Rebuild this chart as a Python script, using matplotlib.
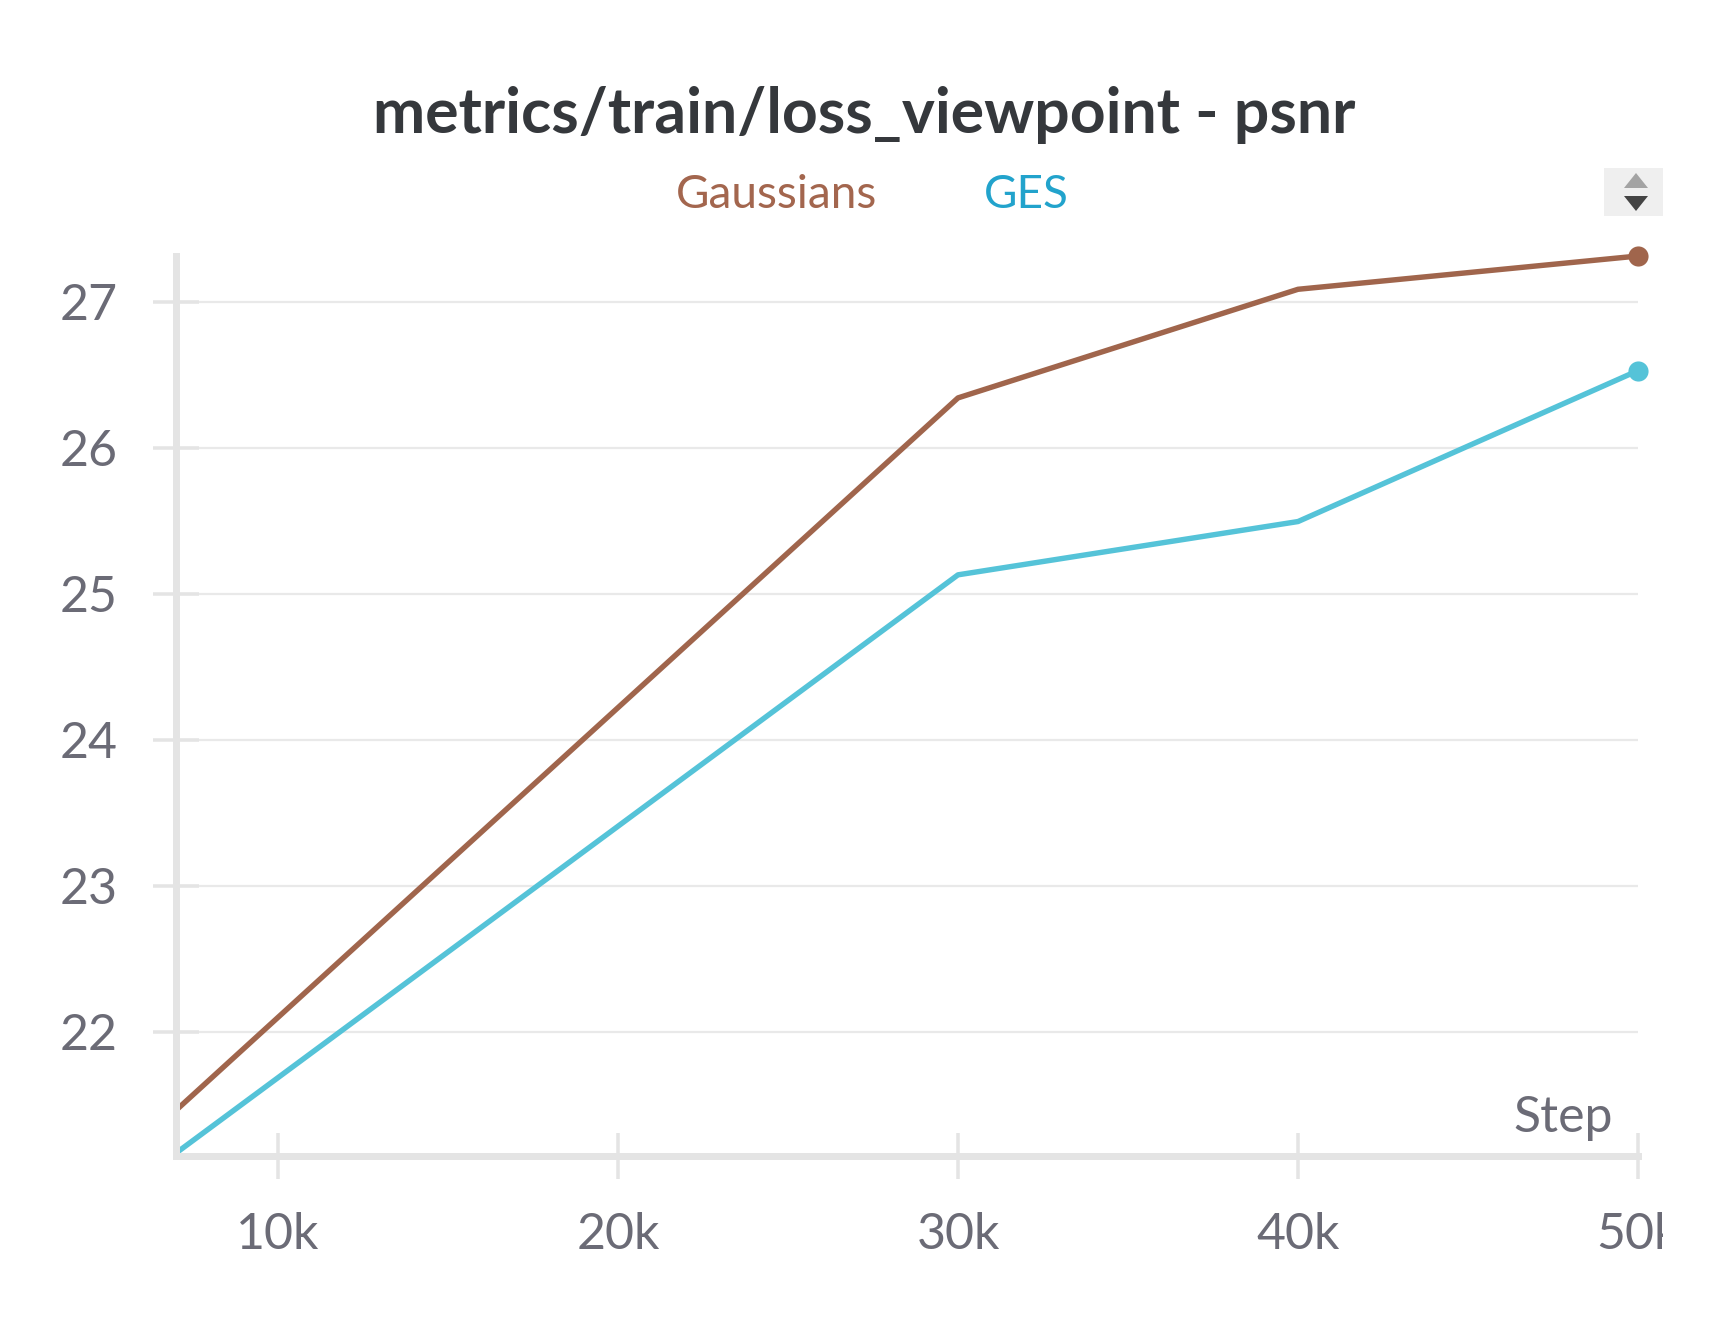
import matplotlib
matplotlib.use("Agg")
import matplotlib.pyplot as plt
from matplotlib.patches import Rectangle, Polygon

# ---- data ----
steps = [7000, 30000, 40000, 50000]
gaussians_psnr = [21.463, 26.343, 27.087, 27.315]
ges_psnr = [21.17, 25.131, 25.496, 26.53]
series_names = ["Gaussians", "GES"]
x_ticks = [10000, 20000, 30000, 40000, 50000]
x_tick_labels = ["10k", "20k", "30k", "40k", "50k"]
y_ticks = [22, 23, 24, 25, 26, 27]
title = "metrics/train/loss_viewpoint - psnr"

# ---- style ----
W, H = 1728, 1328
DPI = 100
PX = 72.0 / DPI  # points per pixel
FONT = "Lato"
c_brown = "#a0654c"
c_blue = "#55c3d8"
c_brown_txt = "#a3664e"
c_blue_txt = "#22a3cc"
c_axis = "#e4e4e4"
c_grid = "#e9e9e9"
c_label = "#6b6b76"
c_title = "#35383c"

fig = plt.figure(figsize=(W / DPI, H / DPI), dpi=DPI, facecolor="white")

def fx(px):
    return px / W

def fy(py):
    return 1 - py / H

ax_l, ax_r, ax_t, ax_b = 176, 1638, 256, 1156
ax = fig.add_axes([fx(ax_l), fy(ax_b), fx(ax_r - ax_l), (ax_b - ax_t) / H])
ax.set_facecolor("white")

for ys, col in [(gaussians_psnr, c_brown), (ges_psnr, c_blue)]:
    ax.plot(steps, ys, color=col, lw=3.9, solid_capstyle="butt",
            solid_joinstyle="round", zorder=3, clip_on=False)
    ax.plot(steps[-1:], ys[-1:], linestyle="none", marker="o", markersize=14.5,
            color=col, markeredgewidth=0, zorder=4, clip_on=False)

ax.set_xlim(7000, 50000)
ax.set_ylim(21.15, 27.315)
ax.set_xticks(x_ticks)
ax.set_xticklabels(x_tick_labels)
ax.set_yticks(y_ticks)
ax.set_yticklabels([str(v) for v in y_ticks])

for s in ["top", "right"]:
    ax.spines[s].set_visible(False)
for s in ["left", "bottom"]:
    ax.spines[s].set_color(c_axis)
    ax.spines[s].set_linewidth(7 * PX)
    ax.spines[s].set_capstyle("projecting")
    ax.spines[s].set_zorder(5)

ax.yaxis.grid(True, color=c_grid, lw=2.2 * PX, zorder=0)
ax.xaxis.grid(False)
ax.set_axisbelow(True)

tick_len = 47 * PX
ax.tick_params(axis="both", direction="inout", length=tick_len, width=3.5 * PX,
               color=c_axis, labelcolor=c_label, labelsize=36)
ax.tick_params(axis="y", pad=58 * PX - tick_len / 2)
ax.tick_params(axis="x", pad=56 * PX - tick_len / 2)
for lab in ax.get_xticklabels() + ax.get_yticklabels():
    lab.set_fontfamily(FONT)

# Step label
fig.text(fx(1613), fy(1132), "Step", ha="right", va="baseline", fontsize=36,
         color=c_label, family=FONT)

# title
fig.text(fx(864), fy(133), title, ha="center", va="baseline", fontsize=45,
         fontweight="bold", color=c_title, family=FONT)

# legend text
fig.text(fx(776), fy(208), series_names[0], ha="center", va="baseline",
         fontsize=33, color=c_brown_txt, family=FONT)
fig.text(fx(1026), fy(208), series_names[1], ha="center", va="baseline",
         fontsize=33, color=c_blue_txt, family=FONT)

# up/down button
def fig_patch(p):
    p.set_transform(fig.transFigure)
    fig.patches.append(p)

fig_patch(Rectangle((fx(1604), fy(216)), fx(1663 - 1604), (216 - 168) / H,
                    facecolor="#efefef", edgecolor="none", zorder=5))
fig_patch(Polygon([(fx(1624), fy(188)), (fx(1648), fy(188)), (fx(1636), fy(173))],
                  closed=True, facecolor="#a3a3a3", edgecolor="none", zorder=6))
fig_patch(Polygon([(fx(1624), fy(196)), (fx(1648), fy(196)), (fx(1636), fy(211))],
                  closed=True, facecolor="#444444", edgecolor="none", zorder=6))

# clip region on the right (panel edge)
fig_patch(Rectangle((fx(1663), 0), fx(W - 1663), fy(216) - 0.0,
                    facecolor="white", edgecolor="none", zorder=10))

fig.savefig("out.png", dpi=DPI, facecolor="white")
